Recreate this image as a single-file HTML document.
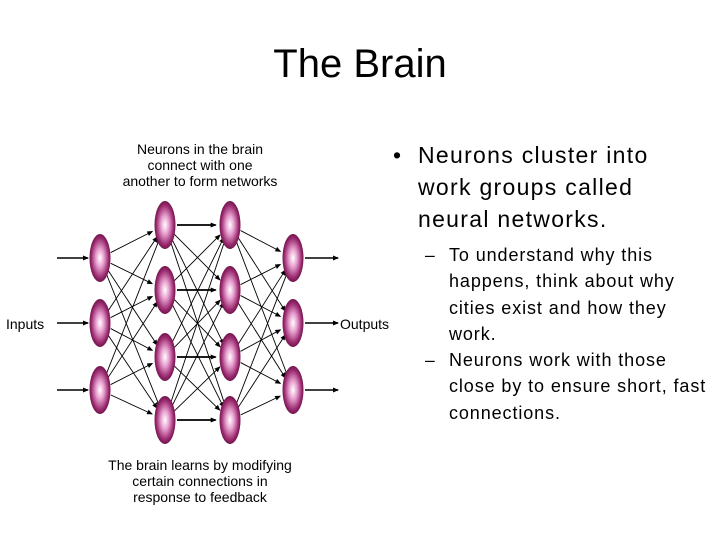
<!DOCTYPE html>
<html><head><style>
body{margin:0;width:720px;height:540px;background:#fff;position:relative;overflow:hidden;font-family:"Liberation Sans",sans-serif}
.t{position:absolute;white-space:nowrap;color:#000}
.c{text-align:center}
</style></head><body>
<div class="t" style="left:0;width:720px;top:42px;font-size:40px;text-align:center">The Brain</div>
<div class="t c" style="left:95px;width:210px;top:141px;font-size:14px;line-height:16px">Neurons in the brain<br>connect with one<br>another to form networks</div>
<div class="t c" style="left:75px;width:250px;top:457px;font-size:14px;line-height:16px">The brain learns by modifying<br>certain connections in<br>response to feedback</div>
<div class="t" style="left:6px;top:316px;font-size:14px">Inputs</div>
<div class="t" style="left:340px;top:316px;font-size:14px">Outputs</div>
<div class="t" style="left:393px;top:139px;font-size:23px;line-height:32px">•</div>
<div class="t" style="left:418px;top:139px;font-size:23px;line-height:32px;letter-spacing:1.3px">Neurons cluster into<br>work groups called<br>neural networks.</div>
<div class="t" style="left:425px;top:242px;font-size:17.5px;line-height:26.3px">–<br><br><br><br>–</div>
<div class="t" style="left:449px;top:242px;font-size:18px;line-height:26.3px;letter-spacing:0.9px">To understand why this<br>happens, think about why<br>cities exist and how they<br>work.<br>Neurons work with those<br>close by to ensure short, fast<br>connections.</div>
<svg width="720" height="540" style="position:absolute;left:0;top:0">
<defs>
<radialGradient id="g" cx="50%" cy="50%" r="55%">
<stop offset="0" stop-color="#fff"/><stop offset="0.35" stop-color="#e8a0d0"/><stop offset="0.75" stop-color="#9a2a6e"/><stop offset="1" stop-color="#5a0a3a"/>
</radialGradient>
<marker id="a" markerWidth="6" markerHeight="6" refX="5" refY="3" orient="auto" markerUnits="userSpaceOnUse"><path d="M0,0.5L6,3L0,5.5z" fill="#000"/></marker>
</defs>
<g id="edges" stroke="#000" stroke-width="0.9" fill="none" marker-end="url(#a)"></g>
<g id="nodes"></g>
</svg>
<script>
var L=[[100,[258,323,390]],[165,[225,290,357,420]],[230,[225,290,357,420]],[293,[258,323,390]]];
var e=document.getElementById('edges'),n=document.getElementById('nodes'),ns='http://www.w3.org/2000/svg';
function ln(x1,y1,x2,y2,w){var l=document.createElementNS(ns,'line');l.setAttribute('x1',x1);l.setAttribute('y1',y1);l.setAttribute('x2',x2);l.setAttribute('y2',y2);if(w)l.setAttribute('stroke-width',w);e.appendChild(l);}
for(var i=0;i<3;i++){var A=L[i],B=L[i+1];A[1].forEach(function(y1){B[1].forEach(function(y2){var dx=B[0]-A[0],dy=y2-y1,d=Math.sqrt(dx*dx+dy*dy);var s=10/d*1.2,t=1-11/d*1.3;ln(A[0]+dx*s,y1+dy*s,A[0]+dx*t,y1+dy*t,y1==y2?1.8:0.9);});});}
L[0][1].forEach(function(y){ln(57,y,88,y,1.4);});
L[3][1].forEach(function(y){ln(305,y,338,y,1.6);});
L.forEach(function(c){c[1].forEach(function(y){var el=document.createElementNS(ns,'ellipse');el.setAttribute('cx',c[0]);el.setAttribute('cy',y);el.setAttribute('rx',10.5);el.setAttribute('ry',24);el.setAttribute('fill','url(#g)');n.appendChild(el);});});
</script>
</body></html>
